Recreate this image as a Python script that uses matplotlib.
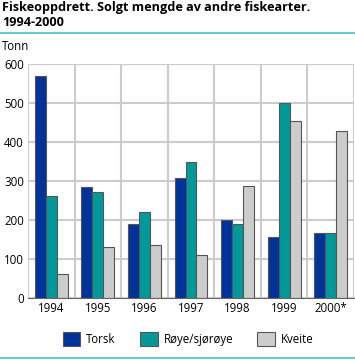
import matplotlib.pyplot as plt
import numpy as np
from matplotlib.lines import Line2D

plt.rcParams["font.family"] = ["Open Sans", "DejaVu Sans"]

years = ["1994", "1995", "1996", "1997", "1998", "1999", "2000*"]
torsk = [570, 284, 191, 307, 199, 157, 166]
roye = [262, 273, 221, 350, 189, 499, 167]
kveite = [61, 132, 137, 111, 288, 453, 427]
series = ["Torsk", "Røye/sjørøye", "Kveite"]
colors = ["#003399", "#009999", "#cccccc"]

fig = plt.figure(figsize=(3.55, 3.61), dpi=100)
ax = fig.add_axes([28 / 355, 1 - 298 / 361, 326 / 355, 234 / 361])

x = np.arange(len(years))
w = 0.235
for i, (vals, c, lab) in enumerate(zip([torsk, roye, kveite], colors, series)):
    ax.bar(x + (i - 1) * w, vals, w, color=c, edgecolor="#555555",
           linewidth=0.8, label=lab, zorder=3)

ax.set_xlim(-0.5, len(years) - 0.5)
ax.set_ylim(0, 600)
ax.set_yticks(range(0, 601, 100))
ax.set_xticks(x)
ax.set_xticklabels(years)
for b in np.arange(-0.5, len(years), 1):
    ax.axvline(b, color="#cccccc", lw=1.5, zorder=1)
ax.yaxis.grid(True, color="#cccccc", lw=1.5, zorder=1)
ax.tick_params(length=0, labelsize=8.3, colors="#000000", pad=3)
for s in ["top", "right", "left"]:
    ax.spines[s].set_visible(False)
ax.spines["bottom"].set_color("#666666")
ax.spines["bottom"].set_zorder(4)

fig.text(2 / 355, 1 - 1 / 361, "Fiskeoppdrett. Solgt mengde av andre fiskearter.\n1994-2000",
         fontsize=9.1, fontweight="bold", va="top", ha="left", linespacing=1.2)
fig.add_artist(Line2D([0, 1], [1 - 33 / 361] * 2, color="#66cccc", lw=1.5))
fig.text(2 / 355, 1 - 46 / 361, "Tonn", fontsize=8.3, va="center", ha="left")
fig.add_artist(Line2D([0, 1], [1 - 358 / 361] * 2, color="#66cccc", lw=1.5))

fig.legend(loc="center", bbox_to_anchor=(0.53, 1 - 339 / 361), ncol=3, frameon=False,
           fontsize=8.3, handlelength=1.55, handleheight=1.6, columnspacing=2.1,
           handletextpad=0.5)

fig.savefig("out.png", dpi=100)
